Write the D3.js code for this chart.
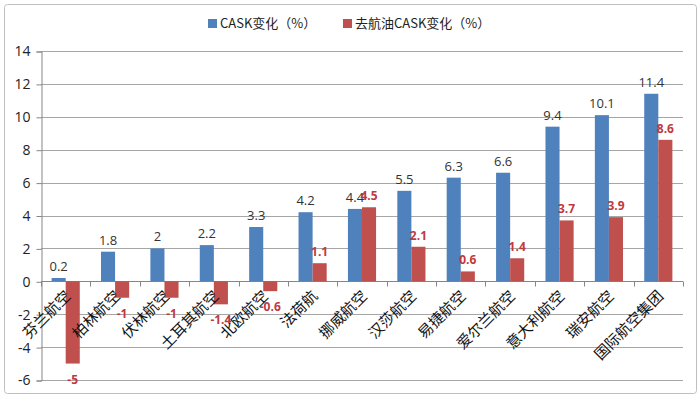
<!DOCTYPE html>
<html>
<head>
<meta charset="utf-8">
<script src="https://cdn.jsdelivr.net/npm/d3@7"></script>
<style>
  body { margin: 0; background: #fff; }
  text { font-family: "Noto Sans CJK SC", "Noto Sans", sans-serif; }
</style>
</head>
<body>
<svg id="chart" width="700" height="399"></svg>
<script>
// data
var categories = ["芬兰航空", "柏林航空", "伏林航空", "土耳其航空", "北欧航空", "法荷航", "挪威航空",
                  "汉莎航空", "易捷航空", "爱尔兰航空", "意大利航空", "瑞安航空", "国际航空集团"];
var caskValues = [0.2, 1.8, 2, 2.2, 3.3, 4.2, 4.4, 5.5, 6.3, 6.6, 9.4, 10.1, 11.4];
var exFuelValues = [-5, -1, -1, -1.4, -0.6, 1.1, 4.5, 2.1, 0.6, 1.4, 3.7, 3.9, 8.6];
var seriesNames = ["CASK变化（%）", "去航油CASK变化（%）"];
var yTicks = [-6, -4, -2, 0, 2, 4, 6, 8, 10, 12, 14];

var colors = ["#4F81BD", "#C0504D"];
var svg = d3.select("#chart");

// outer frame
svg.append("rect")
   .attr("x", 4.5).attr("y", 4.5).attr("width", 692).attr("height", 389)
   .attr("rx", 3)
   .attr("fill", "#fff").attr("stroke", "#bfbfbf");

// note: "top" clashes with window.top, so plot edges get their own names
var plotLeft = 41, plotRight = 683, plotTop = 51, plotBottom = 380;

var y = d3.scaleLinear().domain([-6, 14]).range([plotBottom, plotTop]);
var x0 = d3.scaleBand().domain(categories).range([plotLeft, plotRight])
           .paddingInner(0.43).paddingOuter(0.215);
var x1 = d3.scaleBand().domain([0, 1]).range([0, x0.bandwidth()]);

// gridlines
svg.append("g").selectAll("line").data(yTicks).enter().append("line")
   .attr("x1", plotLeft).attr("x2", plotRight)
   .attr("y1", function(d) { return Math.round(y(d)) + 0.5; })
   .attr("y2", function(d) { return Math.round(y(d)) + 0.5; })
   .attr("stroke", "#a6a6a6");

// y axis (plain hyphen for negatives, like the original)
var yAxis = svg.append("g")
   .attr("transform", "translate(" + (plotLeft + 0.5) + ",0.5)")
   .call(d3.axisLeft(y).tickValues(yTicks).tickSize(5).tickPadding(6).tickFormat(String));
yAxis.select(".domain").attr("stroke", "#868686");
yAxis.selectAll(".tick line").attr("stroke", "#868686");
yAxis.selectAll("text").attr("fill", "#222").style("font-size", "14px")
     .style("font-family", "'Open Sans', 'Noto Sans', sans-serif");

// category ticks on zero line
var step = x0.step();
var zeroY = Math.round(y(0)) + 0.5;
svg.append("g").selectAll("line").data(d3.range(categories.length + 1)).enter().append("line")
   .attr("x1", function(i) { return Math.round(plotLeft + i * step) + 0.5; })
   .attr("x2", function(i) { return Math.round(plotLeft + i * step) + 0.5; })
   .attr("y1", zeroY).attr("y2", zeroY + 5)
   .attr("stroke", "#868686");
svg.append("line").attr("x1", plotLeft).attr("x2", plotRight).attr("y1", zeroY).attr("y2", zeroY)
   .attr("stroke", "#868686");

// bars
var series = [caskValues, exFuelValues];
series.forEach(function(vals, s) {
  var g = svg.append("g");
  g.selectAll("rect").data(vals).enter().append("rect")
   .attr("x", function(d, i) { return x0(categories[i]) + x1(s); })
   .attr("width", x1.bandwidth())
   .attr("y", function(d) { return y(Math.max(0, d)); })
   .attr("height", function(d) { return Math.abs(y(d) - y(0)); })
   .attr("fill", colors[s]);

  g.selectAll("text").data(vals).enter().append("text")
   .attr("x", function(d, i) { return x0(categories[i]) + x1(s) + x1.bandwidth() / 2; })
   .attr("y", function(d) { return d >= 0 ? y(d) - 7 : y(d) + 20; })
   .attr("text-anchor", "middle")
   .style("font-size", s === 0 ? "13px" : "12px")
   .style("font-weight", s === 0 ? "normal" : "bold")
   .style("font-family", "'Open Sans', 'Noto Sans', sans-serif")
   .attr("fill", s === 0 ? "#333" : "#C0393F")
   .text(function(d) { return d; });
});

// x labels, rotated
svg.append("g").selectAll("text").data(categories).enter().append("text")
   .attr("transform", function(d) {
     return "translate(" + (x0(d) + x0.bandwidth() / 2 + 6) + "," + 297 + ") rotate(-45)";
   })
   .attr("text-anchor", "end")
   .style("font-size", "15px")
   .attr("fill", "#111")
   .text(function(d) { return d; });

// legend
var legendX = [208, 343];
seriesNames.forEach(function(name, s) {
  svg.append("rect").attr("x", legendX[s]).attr("y", 19).attr("width", 9).attr("height", 9)
     .attr("fill", colors[s]);
  svg.append("text").attr("x", legendX[s] + 12).attr("y", 28)
     .style("font-size", "13px").attr("fill", "#222")
     .text(name);
});
</script>
</body>
</html>
